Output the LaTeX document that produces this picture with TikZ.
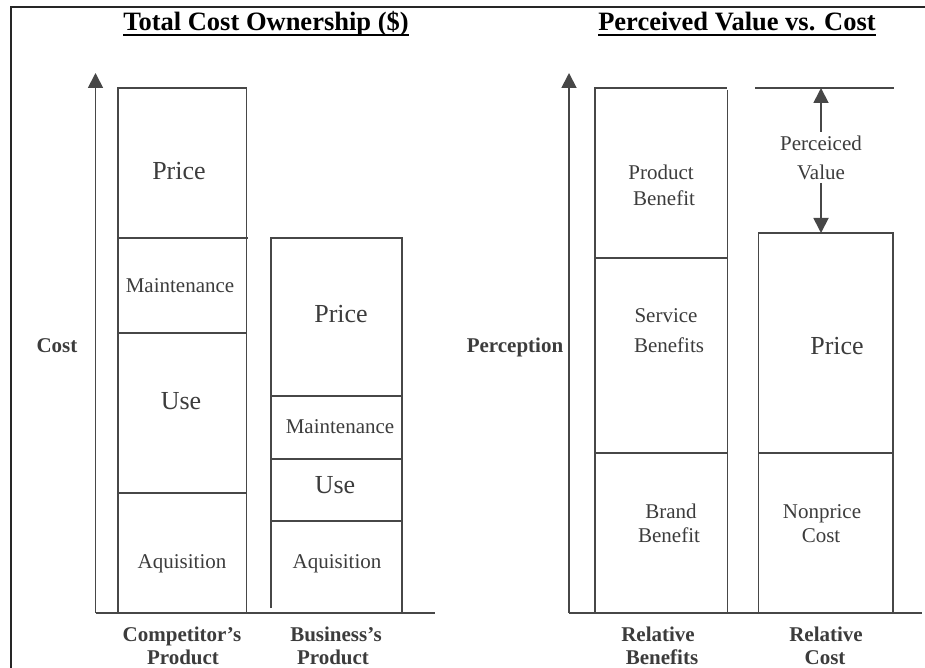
\documentclass[tikz,border=0pt]{standalone}
\usepackage{fontspec}
\setmainfont{Liberation Serif}
\usetikzlibrary{arrows.meta}
\definecolor{ink}{HTML}{474747}
\definecolor{txt}{HTML}{3C3C3C}
\tikzset{
  bar/.style={draw=ink, line width=1.7pt},
  axisline/.style={draw=ink, line width=1.8pt, -{Triangle[width=15pt,length=15pt]}},
  gap/.style={draw=ink, line width=1.8pt, -{Triangle[width=15pt,length=15pt]}},
  lbl/.style={font=\fontsize{21}{24}\selectfont, text=txt, inner sep=0pt, anchor=base},
  biglbl/.style={font=\fontsize{26}{30}\selectfont, text=txt, inner sep=0pt, anchor=base},
  boldlbl/.style={font=\fontsize{21}{24}\selectfont\bfseries, text=txt, inner sep=0pt, anchor=base},
  title/.style={font=\fontsize{26.5}{30}\selectfont\bfseries, inner sep=0pt, anchor=base},
}
\begin{document}
\begin{tikzpicture}[x=1pt,y=-1pt]
\useasboundingbox (0,0) rectangle (925,668);

% frame
\draw[line width=2.5pt, black!85] (11,668) -- (11,7) -- (925,7);

% titles
\node[title] (t1) at (266,31) {Total Cost Ownership (\$)};
\node[title] (t2) at (737,31) {Perceived Value vs. Cost};
\draw[line width=2pt] ([yshift=-4pt]t1.base west) -- ([yshift=-4pt]t1.base east);
\draw[line width=2pt] ([yshift=-4pt]t2.base west) -- ([yshift=-4pt]t2.base east);

% ---------------- left chart: total cost ----------------
\coordinate (o1) at (95.5,613);
\coordinate (y1) at (95.5,73);
\coordinate (x1) at (435,613);
\draw[axisline] (o1) -- (y1);
\draw[bar] (o1) -- (x1);

% competitor's product
\draw[bar] (118,613) -- (118,88) -- (246.5,88) -- (246.5,613);
\draw[bar] (118,238) -- (248,238);
\draw[bar] (118,333) -- (246.5,333);
\draw[bar] (118,493) -- (246.5,493);
\node[biglbl] (cprice) at (179,180) {Price};
\node[lbl] (cmaint) at (180,292) {Maintenance};
\node[biglbl] (cuse) at (181,409) {Use};
\node[lbl] (cacq) at (182,568) {Aquisition};

% business's product
\draw[bar] (271,608) -- (271,238) -- (402,238) -- (402,613);
\draw[bar] (271,396) -- (402,396);
\draw[bar] (271,459) -- (402,459);
\draw[bar] (271,521) -- (402,521);
\node[biglbl] (bprice) at (341,322) {Price};
\node[lbl] (bmaint) at (340,433) {Maintenance};
\node[biglbl] (buse) at (335,493) {Use};
\node[lbl] (bacq) at (337,568) {Aquisition};

\node[boldlbl] (ycost) at (57,352) {Cost};
\node[boldlbl] (cp1) at (182,641) {Competitor’s};
\node[boldlbl] (cp2) at (183,664) {Product};
\node[boldlbl] (bp1) at (336,641) {Business’s};
\node[boldlbl] (bp2) at (333,664) {Product};

% ---------------- right chart: perceived value ----------------
\coordinate (o2) at (569,613);
\coordinate (y2) at (569,73);
\coordinate (x2) at (922,613);
\draw[axisline] (o2) -- (y2);
\draw[bar] (o2) -- (x2);

% relative benefits
\draw[bar] (595,613) -- (595,88) -- (727,88);
\draw[bar] (727.5,90) -- (727.5,613);
\draw[bar] (595,258) -- (727.5,258);
\draw[bar] (595,453) -- (727.5,453);
\node[lbl] (pb1) at (661,180) {Product};
\node[lbl] (pb2) at (664,206) {Benefit};
\node[lbl] (sb1) at (666,322) {Service};
\node[lbl] (sb2) at (669,352) {Benefits};
\node[lbl] (bb1) at (671,518) {Brand};
\node[lbl] (bb2) at (669,542) {Benefit};

% relative cost
\draw[bar] (758.5,613) -- (758.5,233) -- (893,233) -- (893,613);
\draw[bar] (758.5,453) -- (893,453);
\node[biglbl] (rprice) at (837,354) {Price};
\node[lbl] (np1) at (822,518) {Nonprice};
\node[lbl] (np2) at (821,542) {Cost};

% perceived value gap
\coordinate (gl) at (755,88);
\coordinate (gr) at (894,88);
\draw[bar] (gl) -- (gr);
\coordinate (gtop) at (821,88);
\coordinate (gbot) at (821,233);
\node[lbl] (pv1) at (821,151) {Perceiced};
\node[lbl] (pv2) at (821,180) {Value};
\coordinate (gup) at (821,132);
\coordinate (gdn) at (821,183);
\draw[gap] (gup) -- (gtop);
\draw[gap] (gdn) -- (gbot);

\node[boldlbl] (yperc) at (515,352) {Perception};
\node[boldlbl] (rb1) at (658,641) {Relative};
\node[boldlbl] (rb2) at (662,664) {Benefits};
\node[boldlbl] (rc1) at (826,641) {Relative};
\node[boldlbl] (rc2) at (825,664) {Cost};
\end{tikzpicture}
\end{document}
